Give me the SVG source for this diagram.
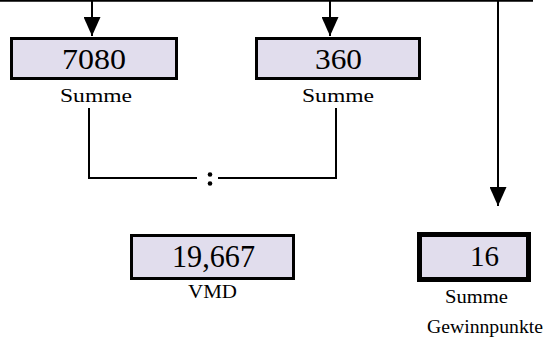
<svg xmlns="http://www.w3.org/2000/svg" width="547" height="346" viewBox="0 0 547 346">
<defs>
<marker id="ah" markerWidth="20" markerHeight="17" refX="19" refY="8.5" orient="auto" markerUnits="userSpaceOnUse">
<path d="M0,0 L19,8.5 L0,17 Z" fill="#000"/>
</marker>
<style>
.box{fill:#e1dded;stroke:#000;stroke-width:3}
.ln{stroke:#000;stroke-width:2;fill:none}
</style>
</defs>
<rect width="547" height="346" fill="#fff"/>
<g id="connectors">
<line class="ln" x1="0" y1="0.8" x2="533" y2="0.8" stroke-width="1.6"/>
<line class="ln" x1="92" y1="0" x2="92" y2="36" marker-end="url(#ah)"/>
<line class="ln" x1="330" y1="0" x2="330" y2="36" marker-end="url(#ah)"/>
<line class="ln" x1="498" y1="0" x2="498" y2="206" marker-end="url(#ah)"/>
<polyline class="ln" points="89,108 89,178 197,178"/>
<polyline class="ln" points="218,178 336,178 336,108"/>
<circle cx="210" cy="174.5" r="2.3" fill="#000"/>
<circle cx="210" cy="183.5" r="2.3" fill="#000"/>
</g>
<g id="n7080" font-family="'Liberation Serif','Times New Roman',serif" fill="#000">
<rect class="box" x="11.5" y="38.5" width="165" height="40"/>
<text x="62" y="69" font-size="29" textLength="64" lengthAdjust="spacingAndGlyphs">7080</text>
<text x="60" y="102" font-size="19" textLength="72" lengthAdjust="spacingAndGlyphs">Summe</text>
</g>
<g id="n360" font-family="'Liberation Serif','Times New Roman',serif" fill="#000">
<rect class="box" x="256.5" y="38.5" width="163" height="40"/>
<text x="315" y="69" font-size="29" textLength="47" lengthAdjust="spacingAndGlyphs">360</text>
<text x="302" y="102" font-size="19" textLength="72" lengthAdjust="spacingAndGlyphs">Summe</text>
</g>
<g id="n19667" font-family="'Liberation Serif','Times New Roman',serif" fill="#000">
<rect class="box" x="131.5" y="235.5" width="162" height="43"/>
<text x="172" y="267" font-size="31" textLength="83" lengthAdjust="spacingAndGlyphs">19,667</text>
<text x="188" y="298" font-size="18" textLength="49" lengthAdjust="spacingAndGlyphs">VMD</text>
</g>
<g id="n16" font-family="'Liberation Serif','Times New Roman',serif" fill="#000">
<rect x="419.5" y="234.5" width="109" height="45" fill="#e1dded" stroke="#000" stroke-width="5"/>
<text x="470" y="266" font-size="29" textLength="29" lengthAdjust="spacingAndGlyphs">16</text>
<text x="445" y="303" font-size="18" textLength="63" lengthAdjust="spacingAndGlyphs">Summe</text>
<text x="427" y="333" font-size="18" textLength="116" lengthAdjust="spacingAndGlyphs">Gewinnpunkte</text>
</g>
</svg>
